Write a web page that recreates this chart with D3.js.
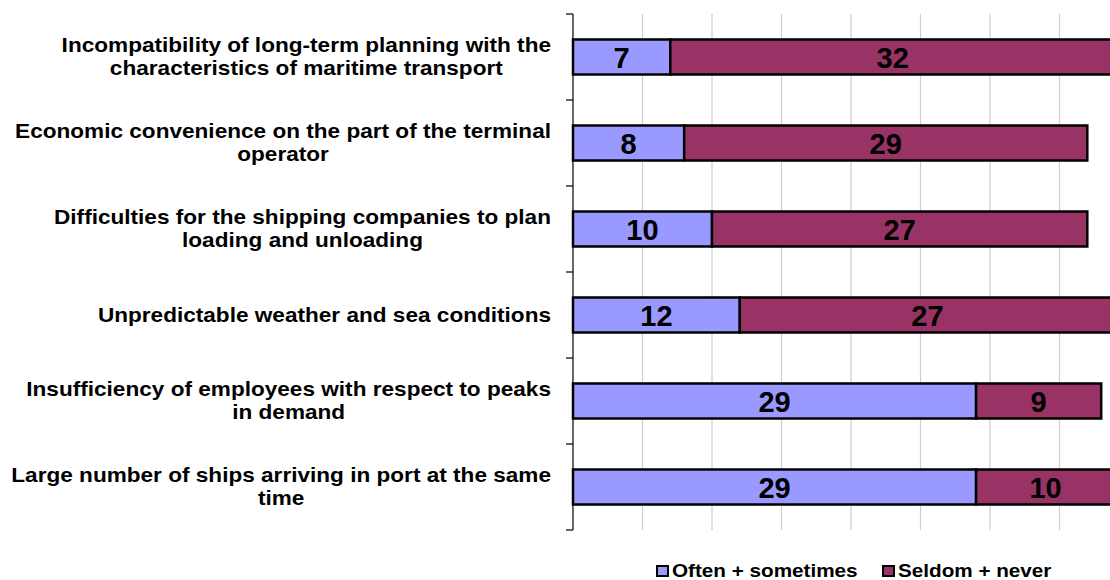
<!DOCTYPE html>
<html><head><meta charset="utf-8">
<script src="https://cdn.jsdelivr.net/npm/d3@7"></script>
<style>body{margin:0;background:#fff;}svg{display:block;font-family:"Liberation Sans",Arial,sans-serif;}</style>
</head><body>
<svg id="c" width="1110" height="580"></svg>
<script>
const categories = [
  ["Incompatibility of long-term planning with the","characteristics of maritime transport"],
  ["Economic convenience on the part of the terminal","operator"],
  ["Difficulties for the shipping companies to plan","loading and unloading"],
  ["Unpredictable weather and sea conditions"],
  ["Insufficiency of employees with respect to peaks","in demand"],
  ["Large number of ships arriving in port at the same","time"]
];
const seriesNames = ["Often + sometimes","Seldom + never"];
const often = [7, 8, 10, 12, 29, 29];
const seldom = [32, 29, 27, 27, 9, 10];
const xTicks = [0,5,10,15,20,25,30,35,40];
const colors = ["#9999FF","#993366"];

const svg = d3.select("#c");
const x0 = 573, unit = 13.9;
const plotTop = 14, plotBottom = 530;
const x = d3.scaleLinear().domain([0,40]).range([x0, x0+40*unit]);
const y = d3.scaleBand().domain(d3.range(categories.length)).range([plotTop, plotBottom]).paddingInner(0.593).paddingOuter(0.2965);

// gridlines
svg.append("g").selectAll("line").data(xTicks.filter(t=>t>0)).join("line")
  .attr("x1",d=>x(d)).attr("x2",d=>x(d)).attr("y1",plotTop).attr("y2",plotBottom)
  .attr("stroke","#cfcfcf").attr("stroke-width",1.2);

// axis line & ticks
const step = (plotBottom-plotTop)/categories.length;
svg.append("line").attr("x1",x0).attr("x2",x0).attr("y1",plotTop).attr("y2",plotBottom).attr("stroke","#000").attr("stroke-width",1.2);
svg.append("g").selectAll("line").data(d3.range(categories.length+1)).join("line")
  .attr("x1",x0-7).attr("x2",x0).attr("y1",i=>plotTop+i*step).attr("y2",i=>plotTop+i*step)
  .attr("stroke","#000").attr("stroke-width",1.2);

// bars
const stacks = categories.map((c,i)=>[[0,often[i]],[often[i],often[i]+seldom[i]]]);
const bars = svg.append("g");
stacks.forEach((s,i)=>{
  s.forEach((seg,j)=>{
    bars.append("rect").attr("x",x(seg[0])).attr("y",y(i)).attr("width",x(seg[1])-x(seg[0])).attr("height",y.bandwidth())
      .attr("fill",colors[j]).attr("stroke","#000").attr("stroke-width",2.5);
  });
});
stacks.forEach((s,i)=>{
  s.forEach((seg,j)=>{
    const val = j===0?often[i]:seldom[i];
    bars.append("text").attr("x",(x(seg[0])+x(seg[1]))/2).attr("y",y(i)+y.bandwidth()/2+10.5)
      .attr("text-anchor","middle").attr("font-size",29).attr("font-weight","bold").attr("fill","#000").text(val);
  });
});

// category labels (horizontally stretched like the reference)
const sx = 1.13;
const lg = svg.append("g");
categories.forEach((lines,i)=>{
  const cy = y(i)+y.bandwidth()/2;
  const t = lg.append("text").attr("font-size",20).attr("font-weight","bold").attr("text-anchor","middle").attr("fill","#000")
    .attr("transform",`translate(551,0) scale(${sx},1)`);
  const lh = 23;
  const spans = lines.map((l,k)=>t.append("tspan").attr("y",cy + (k-(lines.length-1)/2)*lh + 7).text(l));
  let maxW = 0;
  spans.forEach(s=>{maxW=Math.max(maxW,s.node().getComputedTextLength());});
  spans.forEach(s=>s.attr("x",-maxW/2));
});

// legend
const leg = svg.append("g");
const legX = [656, 882];
seriesNames.forEach((n,j)=>{
  leg.append("rect").attr("x",legX[j]+1).attr("y",566).attr("width",11).attr("height",10).attr("fill",colors[j]).attr("stroke","#000").attr("stroke-width",2);
  leg.append("text").attr("transform",`translate(${legX[j]+16},576.5) scale(1.15,1)`).attr("font-size",18).attr("font-weight","bold").text(n);
});
</script>
</body></html>
